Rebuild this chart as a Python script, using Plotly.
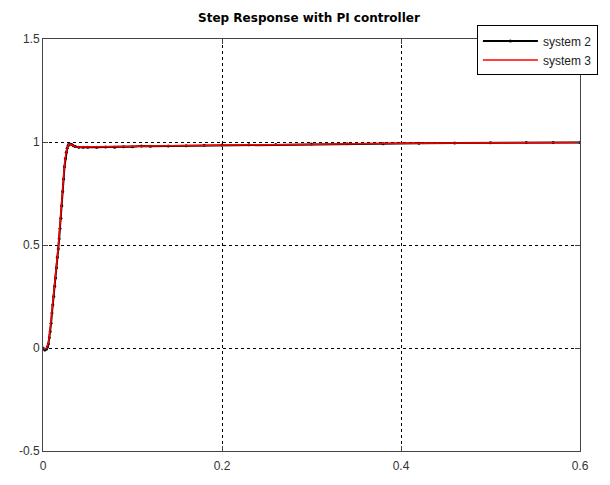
import plotly.graph_objects as go

# ---- data ----
t_sys2 = [0.0, 0.002, 0.004, 0.005, 0.006, 0.007, 0.008, 0.009, 0.010, 0.011, 0.012, 0.013,
          0.014, 0.015, 0.016, 0.017, 0.018, 0.019, 0.020, 0.021, 0.022, 0.023, 0.024, 0.025,
          0.026, 0.027, 0.028, 0.029, 0.030, 0.032, 0.034, 0.036, 0.040, 0.045, 0.050, 0.060,
          0.070, 0.080, 0.090, 0.100, 0.110, 0.120, 0.140, 0.160, 0.180, 0.200, 0.230, 0.260,
          0.300, 0.340, 0.380, 0.420, 0.460, 0.500, 0.540, 0.570, 0.600]
y_sys2 = [0.0, -0.01, -0.005, 0.005, 0.02, 0.05, 0.08, 0.12, 0.17, 0.21, 0.25, 0.30,
          0.34, 0.39, 0.44, 0.48, 0.53, 0.58, 0.63, 0.69, 0.76, 0.82, 0.88, 0.92,
          0.95, 0.97, 0.982, 0.99, 0.99, 0.988, 0.982, 0.978, 0.975, 0.974, 0.975, 0.974,
          0.976, 0.975, 0.977, 0.977, 0.980, 0.979, 0.980, 0.982, 0.984, 0.985, 0.987, 0.988,
          0.990, 0.991, 0.992, 0.994, 0.995, 0.996, 0.997, 0.998, 0.998]

t_sys3 = [0.0, 0.002, 0.004, 0.005, 0.006, 0.007, 0.008, 0.009, 0.010, 0.011, 0.012, 0.013,
          0.014, 0.015, 0.016, 0.017, 0.018, 0.019, 0.020, 0.021, 0.022, 0.023, 0.024, 0.025,
          0.026, 0.027, 0.028, 0.029, 0.030, 0.032, 0.034, 0.036, 0.040, 0.050, 0.060, 0.080,
          0.100, 0.120, 0.150, 0.200, 0.250, 0.300, 0.350, 0.400, 0.450, 0.500, 0.550, 0.600]
y_sys3 = [0.0, -0.005, 0.0, 0.01, 0.025, 0.06, 0.09, 0.13, 0.18, 0.22, 0.26, 0.31,
          0.35, 0.40, 0.45, 0.49, 0.54, 0.59, 0.64, 0.70, 0.77, 0.83, 0.89, 0.93,
          0.955, 0.972, 0.984, 0.99, 0.99, 0.986, 0.981, 0.977, 0.976, 0.976, 0.977, 0.978,
          0.979, 0.980, 0.982, 0.985, 0.988, 0.990, 0.992, 0.994, 0.995, 0.996, 0.997, 0.997]

x_ticks = [0, 0.2, 0.4, 0.6]
x_ticktext = ["0", "0.2", "0.4", "0.6"]
y_ticks = [-0.5, 0, 0.5, 1, 1.5]
y_ticktext = ["-0.5", "0", "0.5", "1", "1.5"]

fig = go.Figure()
fig.add_trace(go.Scatter(x=t_sys2, y=y_sys2, mode="lines+markers", name="system 2",
                         line=dict(color="black", width=2),
                         marker=dict(color="black", size=3, symbol="circle")))
fig.add_trace(go.Scatter(x=t_sys3, y=y_sys3, mode="lines", name="system 3",
                         line=dict(color="red", width=1.5)))

axis_common = dict(showline=True, linecolor="#444", linewidth=1, mirror="ticks",
                   ticks="inside", ticklen=5, tickcolor="#444",
                   showgrid=True, gridcolor="black", griddash="3px,3px", gridwidth=1,
                   zeroline=False,
                   tickfont=dict(family="Liberation Sans, Arial, sans-serif", size=12, color="#333"))

fig.update_xaxes(range=[0, 0.6], tickvals=x_ticks, ticktext=x_ticktext,
                 ticklabelstandoff=4, **axis_common)
fig.update_yaxes(range=[-0.5, 1.5], tickvals=y_ticks, ticktext=y_ticktext, **axis_common)

fig.update_layout(
    width=610, height=485,
    margin=dict(l=43, r=30, t=38.5, b=24.5),
    paper_bgcolor="white", plot_bgcolor="white",
    title=dict(text="<b>Step Response with PI controller</b>", x=309 / 610,
               xanchor="center", y=1 - 18 / 485, yanchor="middle",
               font=dict(family="DejaVu Sans, sans-serif", size=12, color="black")),
    legend=dict(x=0.808, y=1.033, xanchor="left", yanchor="top",
                bgcolor="white", bordercolor="black", borderwidth=1,
                font=dict(family="Liberation Sans, Arial, sans-serif", size=12, color="#222"),
                tracegroupgap=0, itemwidth=55),
    showlegend=True,
)

fig.write_html("out.html")
